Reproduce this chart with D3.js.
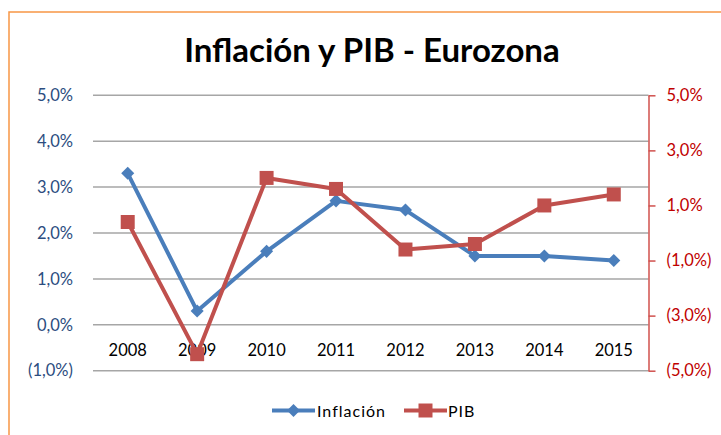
<!DOCTYPE html>
<style>
body { margin: 0; background: #fff; }
text { font-family: Lato, "Open Sans", sans-serif; }
.grid line { stroke: #a6a6a6; stroke-width: 1.5px; }
.axis-left text { fill: #2c4d80; font-size: 16.5px; }
.axis-right text { fill: #c00000; font-size: 16.5px; }
.axis-right line, .axis-right path { stroke: #d0504d; stroke-width: 1.5px; }
.axis-x text { fill: #000; font-size: 16.5px; }
.legend text { font-size: 16px; fill: #000; letter-spacing: 1px; }
</style>
<body>
<script src="https://d3js.org/d3.v7.min.js"></script>
<script>
var width = 721,
    height = 435;

// data
var years = ["2008", "2009", "2010", "2011", "2012", "2013", "2014", "2015"];
var inflacion = [3.3, 0.3, 1.6, 2.7, 2.5, 1.5, 1.5, 1.4];
var pib = [0.4, -4.4, 2.0, 1.6, -0.6, -0.4, 1.0, 1.4];
var leftTicks = [-1, 0, 1, 2, 3, 4, 5];
var rightTicks = [-5, -3, -1, 1, 3, 5];

var blue = "#4a7ebb",
    red = "#c0504d";

var svg = d3.select("body")
            .append("svg")
            .attr("width", width)
            .attr("height", height);

// orange chart border, runs off the right and bottom edges
svg.append("rect")
   .attr("x", 9).attr("y", 12)
   .attr("width", 740).attr("height", 460)
   .attr("fill", "none")
   .attr("stroke", "#f79646")
   .attr("stroke-width", 1.5);

svg.append("text")
   .attr("x", 372).attr("y", 62)
   .attr("text-anchor", "middle")
   .style("font-size", "33px")
   .style("font-weight", "bold")
   .text("Inflación y PIB - Eurozona");

var x = d3.scaleBand().domain(years).range([93, 648.5]);
var yL = d3.scaleLinear().domain([-1, 5]).range([370.7, 95.3]);
var yR = d3.scaleLinear().domain([-5, 5]).range([370.7, 95.3]);

function pct(v) {
  var s = Math.abs(v).toFixed(1).replace(".", ",") + "%";
  return v < 0 ? "(" + s + ")" : s;
}

// gridlines
svg.append("g")
   .attr("class", "grid")
   .selectAll("line")
   .data(leftTicks)
   .enter().append("line")
   .attr("x1", 93).attr("x2", 648.5)
   .attr("y1", function(d) { return yL(d); })
   .attr("y2", function(d) { return yL(d); });

var axL = svg.append("g")
   .attr("class", "axis-left")
   .attr("transform", "translate(93,0)")
   .call(d3.axisLeft(yL).tickValues(leftTicks).tickSize(0).tickPadding(20).tickFormat(pct));
axL.select(".domain").remove();

svg.append("g")
   .attr("class", "axis-right")
   .attr("transform", "translate(648.5,0)")
   .call(d3.axisRight(yR).tickValues(rightTicks).tickSize(7).tickPadding(11).tickFormat(pct).tickSizeOuter(0));

var axX = svg.append("g")
   .attr("class", "axis-x")
   .attr("transform", "translate(0," + yL(0) + ")")
   .call(d3.axisBottom(x).tickSize(0).tickPadding(19));
axX.select(".domain").remove();

var cx = function(d, i) { return x(years[i]) + x.bandwidth() / 2; };

var diamond = d3.symbol().type(d3.symbolSquare).size(85);
var square = d3.symbol().type(d3.symbolSquare).size(196);

// Inflación on left axis
svg.append("path")
   .datum(inflacion)
   .attr("fill", "none")
   .attr("stroke", blue)
   .attr("stroke-width", 4)
   .attr("stroke-linejoin", "round")
   .attr("d", d3.line().x(cx).y(function(d) { return yL(d); }));

// PIB on right axis
svg.append("path")
   .datum(pib)
   .attr("fill", "none")
   .attr("stroke", red)
   .attr("stroke-width", 4)
   .attr("stroke-linejoin", "round")
   .attr("d", d3.line().x(cx).y(function(d) { return yR(d); }));

svg.append("g")
   .selectAll("path")
   .data(inflacion)
   .enter().append("path")
   .attr("d", diamond)
   .attr("fill", blue)
   .attr("transform", function(d, i) { return "translate(" + cx(d, i) + "," + yL(d) + ") rotate(45)"; });

svg.append("g")
   .selectAll("path")
   .data(pib)
   .enter().append("path")
   .attr("d", square)
   .attr("fill", red)
   .attr("transform", function(d, i) { return "translate(" + cx(d, i) + "," + yR(d) + ")"; });

// legend
var legend = svg.append("g").attr("class", "legend");
var ly = 410.5;

legend.append("line")
   .attr("x1", 272).attr("x2", 315).attr("y1", ly).attr("y2", ly)
   .attr("stroke", blue).attr("stroke-width", 4);
legend.append("path")
   .attr("d", diamond)
   .attr("fill", blue)
   .attr("transform", "translate(293.5," + ly + ") rotate(45)");
legend.append("text")
   .attr("x", 317).attr("y", ly + 6)
   .text("Inflación");

legend.append("line")
   .attr("x1", 404).attr("x2", 447).attr("y1", ly).attr("y2", ly)
   .attr("stroke", red).attr("stroke-width", 4);
legend.append("path")
   .attr("d", square)
   .attr("fill", red)
   .attr("transform", "translate(425.5," + ly + ")");
legend.append("text")
   .attr("x", 448).attr("y", ly + 6)
   .text("PIB");
</script>
</body>
